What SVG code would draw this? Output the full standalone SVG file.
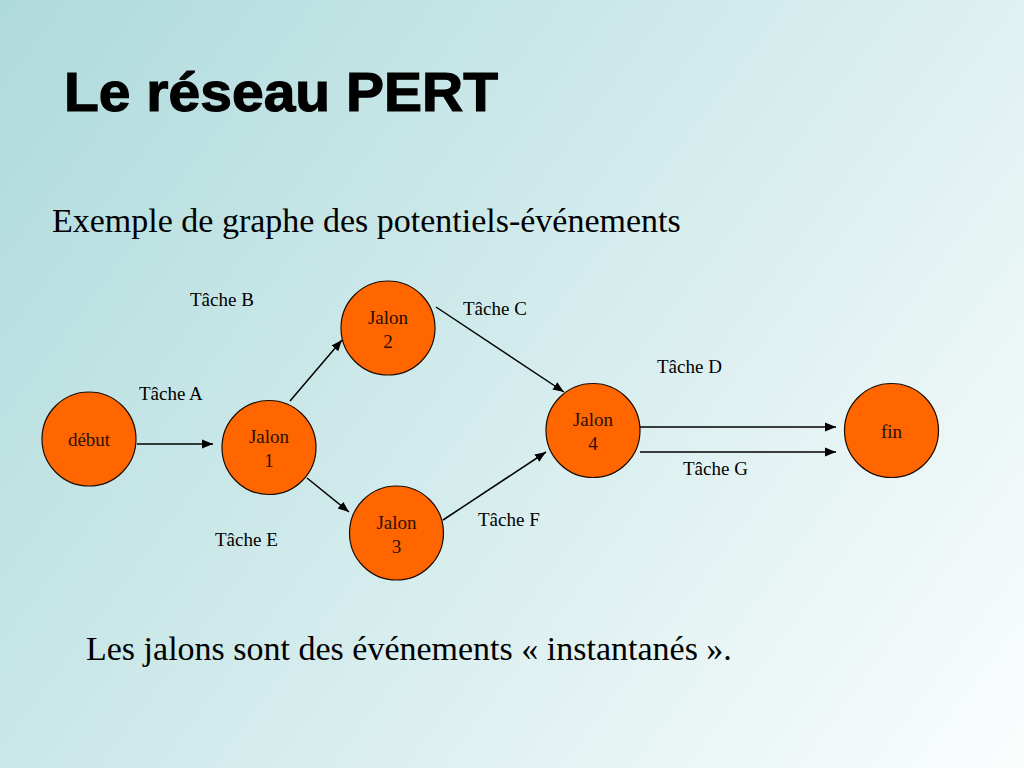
<svg xmlns="http://www.w3.org/2000/svg" width="1024" height="768" viewBox="0 0 1024 768">
<defs>
<linearGradient id="bg" x1="0" y1="0" x2="1024" y2="768" gradientUnits="userSpaceOnUse">
<stop offset="0" stop-color="#afdadb"/>
<stop offset="0.45" stop-color="#d0eaeb"/>
<stop offset="1" stop-color="#fbfdfd"/>
</linearGradient>
<marker id="arr" viewBox="0 0 10 10" refX="10" refY="5" markerWidth="11" markerHeight="11" markerUnits="userSpaceOnUse" orient="auto">
<path d="M0,1 L10,5 L0,9 Z" fill="#000"/>
</marker>
<style>
.node circle{fill:#ff6600;stroke:#1a0a00;stroke-width:1.2}
.node text{font-family:"Liberation Serif","Times New Roman",serif;font-size:19px;fill:#2a1000;text-anchor:middle}
.lbl{font-family:"Liberation Serif","Times New Roman",serif;font-size:19px;fill:#000}
#connectors line{stroke:#000;stroke-width:1.5;marker-end:url(#arr)}
.body{font-family:"Liberation Serif","Times New Roman",serif;font-size:34px;fill:#000}
</style>
</defs>
<rect width="1024" height="768" fill="url(#bg)"/>
<text x="64" y="111" font-family="'Liberation Sans',Arial,sans-serif" font-weight="bold" font-size="56" fill="#000" stroke="#000" stroke-width="1.2" textLength="434" lengthAdjust="spacingAndGlyphs">Le réseau PERT</text>
<text class="body" x="52" y="232">Exemple de graphe des potentiels-événements</text>

<g id="connectors">
<line x1="137" y1="444" x2="213" y2="444"/>
<line x1="290" y1="401" x2="342" y2="340"/>
<line x1="307" y1="478" x2="349" y2="512"/>
<line x1="436" y1="307" x2="564" y2="392"/>
<line x1="443" y1="520" x2="546" y2="452"/>
<line x1="640" y1="427" x2="836" y2="427"/>
<line x1="640" y1="452" x2="836" y2="452"/>
</g>

<g id="labels">
<text class="lbl" x="190" y="306">Tâche B</text>
<text class="lbl" x="139" y="400">Tâche A</text>
<text class="lbl" x="215" y="546">Tâche E</text>
<text class="lbl" x="463" y="315">Tâche C</text>
<text class="lbl" x="657" y="373">Tâche D</text>
<text class="lbl" x="683" y="475">Tâche G</text>
<text class="lbl" x="478" y="526">Tâche F</text>
</g>

<g id="node-debut" class="node">
<circle cx="89" cy="439" r="47"/>
<text x="89" y="446">début</text>
</g>
<g id="node-jalon1" class="node">
<circle cx="269" cy="447.5" r="47"/>
<text x="269" y="443">Jalon</text>
<text x="269" y="467">1</text>
</g>
<g id="node-jalon2" class="node">
<circle cx="388" cy="328" r="47"/>
<text x="388" y="324">Jalon</text>
<text x="388" y="348">2</text>
</g>
<g id="node-jalon3" class="node">
<circle cx="396.5" cy="533" r="47"/>
<text x="396.5" y="529">Jalon</text>
<text x="396.5" y="553">3</text>
</g>
<g id="node-jalon4" class="node">
<circle cx="593" cy="430.5" r="47"/>
<text x="593" y="426">Jalon</text>
<text x="593" y="450">4</text>
</g>
<g id="node-fin" class="node">
<circle cx="891.5" cy="430.5" r="47"/>
<text x="891.5" y="438">fin</text>
</g>

<text class="body" x="86" y="660">Les jalons sont des événements « instantanés ».</text>
</svg>
